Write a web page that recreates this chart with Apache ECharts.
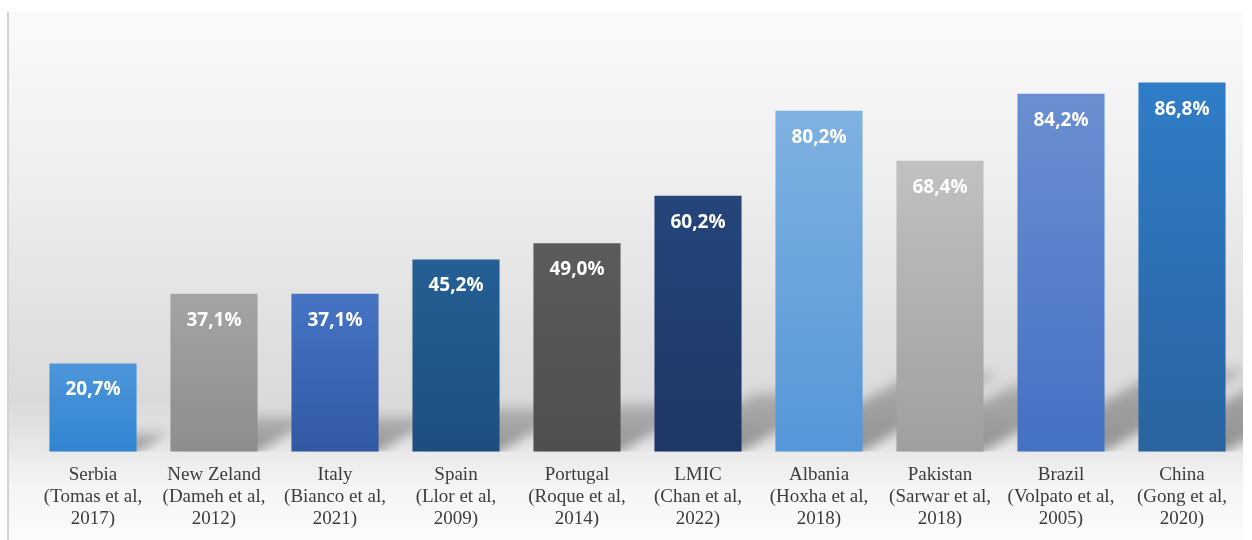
<!DOCTYPE html>
<html>
<head>
<meta charset="utf-8">
<script src="https://cdn.jsdelivr.net/npm/echarts@6/dist/echarts.min.js"></script>
<style>
  html, body { margin: 0; padding: 0; background: #ffffff; }
  #chart { width: 1252px; height: 540px; }
</style>
</head>
<body>
<div id="chart"></div>
<script>
// Study labels (country, source) and the reported share in percent
const categories = [
  'Serbia\n(Tomas et al,\n2017)',
  'New Zeland\n(Dameh et al,\n2012)',
  'Italy\n(Bianco et al,\n2021)',
  'Spain\n(Llor et al,\n2009)',
  'Portugal\n(Roque et al,\n2014)',
  'LMIC\n(Chan et al,\n2022)',
  'Albania\n(Hoxha et al,\n2018)',
  'Pakistan\n(Sarwar et al,\n2018)',
  'Brazil\n(Volpato et al,\n2005)',
  'China\n(Gong et al,\n2020)'
];
const values = [20.7, 37.1, 37.1, 45.2, 49.0, 60.2, 80.2, 68.4, 84.2, 86.8];

// Top / bottom colour of each bar's vertical gradient
const barTopColors = ['#4e96da', '#a4a4a4', '#4674c5', '#255f94', '#5b5b5b', '#25457b', '#7fb1e1', '#c1c1c1', '#6b8ed1', '#2f7dc7'];
const barBottomColors = ['#3184d1', '#8d8d8d', '#3158a3', '#1e4e7f', '#4f4f4f', '#1f3764', '#5497d8', '#9f9f9f', '#4571c4', '#2a63a0'];

const fmt = v => v.toFixed(1).replace('.', ',') + '%';

const barData = values.map((v, i) => ({
  value: v,
  itemStyle: {
    color: new echarts.graphic.LinearGradient(0, 0, 0, 1, [
      { offset: 0, color: barTopColors[i] },
      { offset: 1, color: barBottomColors[i] }
    ])
  }
}));

const chart = echarts.init(document.getElementById('chart'), null, { renderer: 'canvas' });

// Perspective floor shadow: the bar skewed up and to the right, drawn only
// through its blurred canvas shadow (the shape itself sits off to the side).
const SHIFT = 4000;
function renderShadow(params, api) {
  const idx = api.value(0);
  const val = api.value(1);
  const top = api.coord([idx, val]);
  const base = api.coord([idx, 0]);
  const band = api.size([1, 0])[0];
  const w = band * 0.72;
  const x0 = base[0] - w / 2 + SHIFT;
  const x1 = base[0] + w / 2 + SHIFT;
  const yb = base[1];
  const h = yb - top[1];
  const dx = h * 0.40;
  const dy = h * 0.23;
  return {
    type: 'polygon',
    shape: {
      points: [[x0, yb], [x1, yb], [x1 + dx, yb - dy], [x0 + dx, yb - dy]]
    },
    style: {
      fill: new echarts.graphic.LinearGradient(0, yb, 0, yb - dy, [
        { offset: 0, color: 'rgba(0,0,0,1)' },
        { offset: 1, color: 'rgba(0,0,0,0.5)' }
      ], true),
      shadowBlur: 12,
      shadowColor: 'rgba(0,0,0,0.38)',
      shadowOffsetX: -SHIFT,
      shadowOffsetY: 0
    }
  };
}

chart.setOption({
  backgroundColor: '#ffffff',
  animation: false,
  graphic: [
    {
      type: 'rect',
      z: -100,
      silent: true,
      shape: { x: 8, y: 12, width: 1235, height: 528 },
      style: {
        fill: new echarts.graphic.LinearGradient(0, 0, 0, 1, [
          { offset: 0, color: '#fafafa' },
          { offset: 0.3, color: '#efefef' },
          { offset: 0.58, color: '#e1e1e1' },
          { offset: 0.74, color: '#dadada' },
          { offset: 0.83, color: '#e9e9e9' },
          { offset: 0.9, color: '#f5f5f5' },
          { offset: 1, color: '#fbfbfb' }
        ])
      }
    },
    {
      type: 'rect',
      z: -99,
      silent: true,
      shape: { x: 7, y: 12, width: 2, height: 528 },
      style: { fill: '#d3d3d3' }
    }
  ],
  grid: { left: 32.5, right: 9.5, top: 26.5, bottom: 88.5, containLabel: false },
  xAxis: {
    type: 'category',
    data: categories,
    axisLine: { show: false },
    axisTick: { show: false },
    axisLabel: {
      interval: 0,
      margin: 13,
      color: '#3c3c3c',
      fontFamily: '"Liberation Serif", "Times New Roman", serif',
      fontSize: 19,
      lineHeight: 22
    }
  },
  yAxis: {
    type: 'value',
    min: 0,
    max: 100,
    show: false,
    splitLine: { show: false }
  },
  series: [
    {
      type: 'custom',
      z: 1,
      clip: true,
      silent: true,
      renderItem: renderShadow,
      data: values.map((v, i) => [i, v])
    },
    {
      type: 'bar',
      z: 3,
      barCategoryGap: '28%',
      data: barData,
      label: {
        show: true,
        position: 'insideTop',
        distance: 17,
        color: '#ffffff',
        fontFamily: '"Open Sans", sans-serif',
        fontWeight: 'bold',
        fontSize: 19,
        formatter: p => fmt(p.value)
      }
    }
  ]
});
</script>
</body>
</html>
